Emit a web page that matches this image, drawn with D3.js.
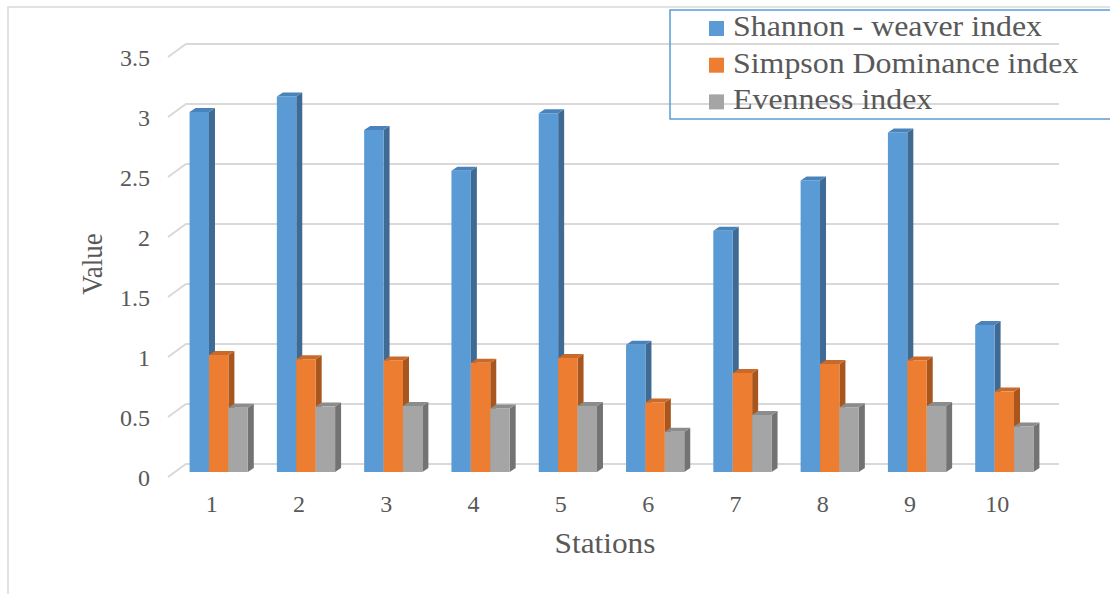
<!DOCTYPE html>
<html>
<head>
<meta charset="utf-8">
<script src="https://cdn.jsdelivr.net/npm/d3@7"></script>
<style>
  html, body { margin: 0; padding: 0; background: #fff; }
  svg { display: block; }
  text { font-family: "Liberation Serif", "Times New Roman", serif; fill: #595959; }
</style>
</head>
<body>
<svg id="chart" width="1110" height="594"></svg>
<script>
// Diversity indices per sampling station
const stations = ["1", "2", "3", "4", "5", "6", "7", "8", "9", "10"];
const seriesNames = ["Shannon - weaver index", "Simpson Dominance index", "Evenness index"];
const shannon = [3.00, 3.13, 2.85, 2.51, 2.99, 1.06, 2.01, 2.43, 2.83, 1.225];
const simpson = [0.975, 0.94, 0.93, 0.91, 0.95, 0.58, 0.825, 0.90, 0.93, 0.67];
const evenness = [0.535, 0.545, 0.55, 0.53, 0.55, 0.335, 0.475, 0.54, 0.55, 0.38];
const yTicks = [0, 0.5, 1, 1.5, 2, 2.5, 3, 3.5];
const yTickLabels = ["0", "0.5", "1", "1.5", "2", "2.5", "3", "3.5"];

const seriesValues = [shannon, simpson, evenness];
const fronts = ["#5B9BD5", "#ED7D31", "#A5A5A5"];
const tops   = ["#4A83BA", "#C9692A", "#8C8C8C"];
const sides  = ["#3E6A94", "#A9561E", "#737373"];

const svg = d3.select("#chart");

// Oblique 3D frame: floor front edge, bar plane, back wall
const floorFront = 477;         // baseline y at front of floor
const depthX = 18, depthY = 13; // offset from floor front to back wall
const barPlaneX = 7, barPlaneY = 5; // bar front faces sit this far into the floor
const barDX = 6, barDY = 4;     // bar depth

const y = d3.scaleLinear().domain([0, 3.5]).range([0, 420]);
const x = d3.scaleBand().domain(stations).range([168, 1041])
  .paddingInner(0.333).paddingOuter(0.167);
const xs = d3.scaleBand().domain(d3.range(seriesNames.length)).range([0, x.bandwidth()]);

// Chart border
svg.append("rect").attr("x", 8).attr("y", 7).attr("width", 1300).attr("height", 700)
  .attr("fill", "none").attr("stroke", "#D9D9D9").attr("stroke-width", 1.5);

// Gridlines: side-wall diagonal + back wall line
const grid = svg.append("g").attr("stroke", "#D9D9D9").attr("stroke-width", 2).attr("fill", "none");
const x0 = x.range()[0], x1 = x.range()[1];
yTicks.forEach(t => {
  const yf = floorFront - y(t);
  grid.append("path")
    .attr("d", `M${x0},${yf} L${x0 + depthX},${yf - depthY} L${x1 + depthX},${yf - depthY}`);
});

// Y tick labels
yTicks.forEach((t, i) => {
  const yf = floorFront - y(t);
  svg.append("text")
    .attr("text-anchor", "end")
    .attr("font-size", 24)
    .attr("transform", `translate(150,${yf + 9})`)
    .text(yTickLabels[i]);
});

// Bars
const baseY = floorFront - barPlaneY;
stations.forEach((st, i) => {
  seriesValues.forEach((vals, s) => {
    const v = vals[i];
    const bx = x(st) + barPlaneX + xs(s);
    const bw = xs.bandwidth();
    const top = baseY - y(v);
    const g = svg.append("g");
    // side face
    g.append("path")
      .attr("d", `M${bx + bw},${top} L${bx + bw + barDX},${top - barDY} L${bx + bw + barDX},${baseY - barDY} L${bx + bw},${baseY} Z`)
      .attr("fill", sides[s]);
    // top face
    g.append("path")
      .attr("d", `M${bx},${top} L${bx + barDX},${top - barDY} L${bx + bw + barDX},${top - barDY} L${bx + bw},${top} Z`)
      .attr("fill", tops[s]);
    // front face
    g.append("rect").attr("x", bx).attr("y", top).attr("width", bw).attr("height", y(v))
      .attr("fill", fronts[s]);
  });
});

// Category labels
stations.forEach(st => {
  svg.append("text")
    .attr("text-anchor", "middle")
    .attr("font-size", 24)
    .attr("transform", `translate(${x(st) + x.bandwidth() / 2},512)`)
    .text(st);
});

// Axis titles
svg.append("text")
  .attr("text-anchor", "middle")
  .attr("font-size", 29)
  .attr("transform", `translate(605,553) scale(1.08,1)`)
  .text("Stations");
svg.append("text")
  .attr("text-anchor", "middle")
  .attr("font-size", 27)
  .attr("transform", `translate(102,264) scale(1.08,1) rotate(-90)`)
  .text("Value");

// Legend
const legend = svg.append("g");
legend.append("rect").attr("x", 670).attr("y", 10).attr("width", 500).attr("height", 109)
  .attr("fill", "none").attr("stroke", "#5B9BD5").attr("stroke-width", 1.5);
seriesNames.forEach((name, s) => {
  const ly = 21 + s * 36.7;
  legend.append("rect").attr("x", 709).attr("y", ly).attr("width", 15).attr("height", 15)
    .attr("fill", fronts[s]);
  legend.append("text")
    .attr("font-size", 29)
    .attr("transform", `translate(733,${ly + 15}) scale(1.1,1)`)
    .text(name);
});
</script>
</body>
</html>
